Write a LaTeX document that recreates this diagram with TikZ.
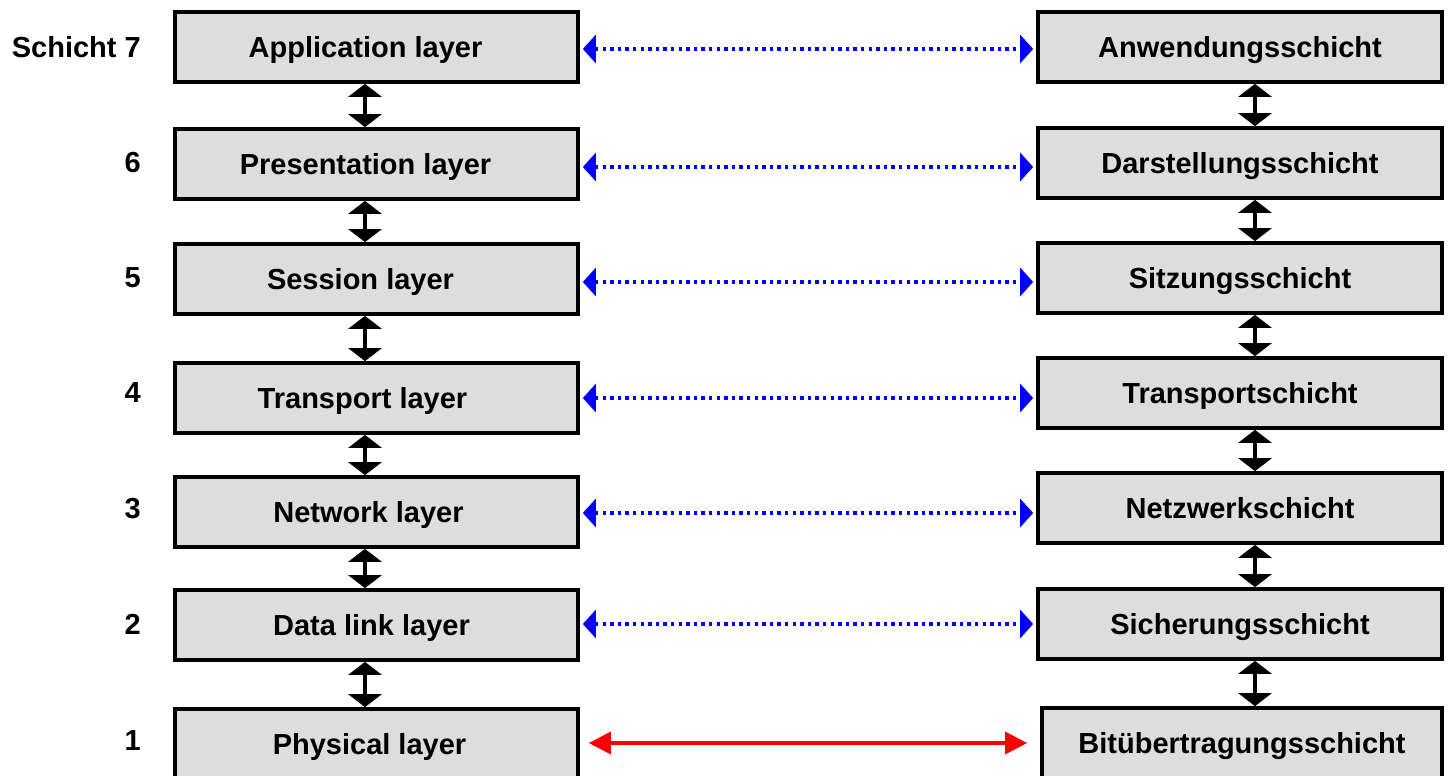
\documentclass[tikz,border=0pt]{standalone}
\usepackage{fontspec}
\setmainfont{Liberation Sans}
\usetikzlibrary{arrows.meta}
\definecolor{boxgray}{HTML}{DDDDDD}
\begin{document}
\begin{tikzpicture}[x=1pt,y=-1pt,
  txt/.style={font=\fontsize{29}{34}\selectfont\bfseries, text height=21pt, text depth=0pt},
  lbox/.style={draw=black, line width=3.7pt, fill=boxgray, minimum width=403pt, minimum height=70pt, inner sep=0pt},
  rbox/.style={draw=black, line width=3.7pt, fill=boxgray, minimum width=404pt, minimum height=70pt, inner sep=0pt, txt},
  num/.style={txt, anchor=east, inner sep=0pt},
  vconn/.style={line width=3.2pt, {Triangle[length=13pt,width=33pt]}-{Triangle[length=13pt,width=33pt]}},
  bconn/.style={blue, line width=3.4pt, dash pattern=on 3.4pt off 4.2pt, {Triangle[length=13pt,width=28pt]}-{Triangle[length=13pt,width=28pt]}, shorten <=3pt, shorten >=3pt},
  rconn/.style={red, line width=3.4pt, {Triangle[length=22pt,width=22pt]}-{Triangle[length=22pt,width=22pt]}, shorten <=9pt, shorten >=13pt}
]
\useasboundingbox (0,0) rectangle (1449,776);

% left column
\node[lbox, label={[txt,xshift=-11pt]center:Application layer}] (L7) at (376.5,47) {};
\node[lbox, label={[txt,xshift=-11pt]center:Presentation layer}] (L6) at (376.5,164) {};
\node[lbox, label={[txt,xshift=-16pt]center:Session layer}] (L5) at (376.5,279) {};
\node[lbox, label={[txt,xshift=-14pt]center:Transport layer}] (L4) at (376.5,398) {};
\node[lbox, label={[txt,xshift=-8pt]center:Network layer}] (L3) at (376.5,512) {};
\node[lbox, label={[txt,xshift=-5pt]center:Data link layer}] (L2) at (376.5,625) {};
\node[lbox, label={[txt,xshift=-7pt]center:Physical layer}] (L1) at (376.5,744) {};

% right column
\node[rbox] (R7) at (1240,47) {Anwendungsschicht};
\node[rbox] (R6) at (1240,163) {Darstellungsschicht};
\node[rbox] (R5) at (1240,278) {Sitzungsschicht};
\node[rbox] (R4) at (1240,393) {Transportschicht};
\node[rbox] (R3) at (1240,508) {Netzwerkschicht};
\node[rbox] (R2) at (1240,624) {Sicherungsschicht};
\node[rbox, minimum width=400pt] (R1) at (1242,743) {Bitübertragungsschicht};

% layer numbers
\node[num] (N7) at (141,47) {Schicht 7};
\node[num] (N6) at (141,162) {6};
\node[num] (N5) at (141,277) {5};
\node[num] (N4) at (141,392) {4};
\node[num] (N3) at (141,508) {3};
\node[num] (N2) at (141,624) {2};
\node[num] (N1) at (141,740) {1};

% vertical connectors left
\foreach \a/\b in {L7/L6,L6/L5,L5/L4,L4/L3,L3/L2,L2/L1}
  \draw[vconn] ([xshift=-11.5pt]\a.south) -- ([xshift=-11.5pt]\b.north);
% vertical connectors right
\foreach \a/\b in {R7/R6,R6/R5,R5/R4,R4/R3,R3/R2,R2/R1}
  \draw[vconn] ([xshift=15pt]\a.south) -- ([xshift=15pt]\a.south |- \b.north);

% horizontal peer connectors
\draw[bconn] ([yshift=-2pt]L7.east) -- ([yshift=-2pt]L7.east -| R7.west);
\draw[bconn] ([yshift=-3pt]L6.east) -- ([yshift=-3pt]L6.east -| R6.west);
\draw[bconn] ([yshift=-3pt]L5.east) -- ([yshift=-3pt]L5.east -| R5.west);
\draw[bconn] (L4.east) -- (L4.east -| R4.west);
\draw[bconn] ([yshift=-1pt]L3.east) -- ([yshift=-1pt]L3.east -| R3.west);
\draw[bconn] ([yshift=1pt]L2.east) -- ([yshift=1pt]L2.east -| R2.west);
\draw[rconn] ([yshift=1pt]L1.east) -- ([yshift=1pt]L1.east -| R1.west);
\end{tikzpicture}
\end{document}
